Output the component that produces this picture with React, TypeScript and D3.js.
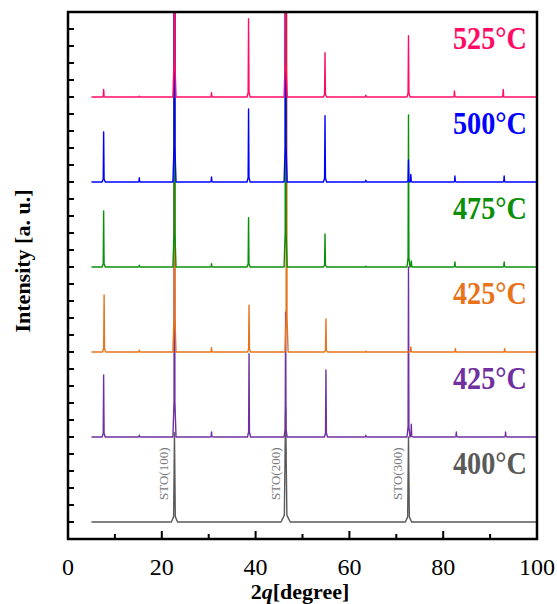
import React from 'react'
import * as d3 from 'd3'

type Peak = [number, number]

// peak list per trace: [2theta, height above own baseline]
const peaks525: Peak[] = [[7.6, 9], [15.2, 1], [22.7, 700], [30.6, 5], [38.5, 92], [46.4, 700], [54.8, 52], [63.5, 2], [72.6, 72], [82.4, 7], [92.8, 9]]
const peaks500: Peak[] = [[7.6, 59], [15.2, 5], [22.7, 700], [30.6, 6], [38.5, 86], [46.4, 700], [54.8, 78], [63.5, 2], [72.6, 26], [73.1, 9], [82.5, 7], [93.0, 7]]
const peaks475: Peak[] = [[7.6, 66], [15.2, 2], [22.7, 700], [30.6, 4], [38.5, 58], [46.4, 700], [54.8, 39], [63.5, 1], [72.6, 179], [73.2, 7], [82.5, 6], [93.0, 6]]
const peaks425a: Peak[] = [[7.7, 67], [15.2, 2], [22.7, 700], [30.6, 5], [38.6, 55], [46.6, 700], [55.0, 39], [63.5, 1], [73.1, 6], [82.6, 4], [93.1, 4]]
const peaks425b: Peak[] = [[7.6, 73], [15.2, 2], [22.7, 700], [30.6, 6], [38.6, 98], [46.4, 147], [55.0, 79], [63.5, 2], [72.6, 200], [73.2, 15], [82.8, 6], [93.3, 6]]
const peaks400: Peak[] = [[22.7, 105], [46.4, 135], [72.6, 100]]

const labels = ['525°C', '500°C', '475°C', '425°C', '425°C', '400°C']
const colors = ['#ff0a64', '#0000ff', '#0a8f0a', '#e8731a', '#7030a0', '#5a5a5a']
const offsets = [520, 420, 320, 220, 120, 20]
const allPeaks = [peaks525, peaks500, peaks475, peaks425a, peaks425b, peaks400]

const stoLabels = ['STO(100)', 'STO(200)', 'STO(300)']
const stoPos = [22.7, 46.4, 72.6]

const xTicks = [0, 20, 40, 60, 80, 100]

const W = 557
const H = 604
const margin = { left: 68, right: 20, top: 12, bottom: 65 }

function tracePoints(peaks: Peak[], gray: boolean): [number, number][] {
  const pts: [number, number][] = [[5, 0]]
  peaks.forEach(([p, h]) => {
    const w = gray ? (p === 46.4 ? 0.45 : 0.3) : 0.15
    pts.push([p - w * 2.2, 0])
    pts.push([p - w * 0.6, h * 0.06])
    pts.push([p, h])
    pts.push([p + w * 0.6, h * 0.06])
    pts.push([p + w * 2.2, 0])
  })
  pts.push([100, 0])
  return pts
}

export default function App() {
  const x = d3.scaleLinear().domain([0, 100]).range([margin.left, W - margin.right])
  const y = d3.scaleLinear().domain([0, 620]).range([H - margin.bottom, margin.top])
  const x0 = x(0), x1 = x(100), yTop = y(620), yBot = y(0)

  const leftTicks = d3.range(20, 620, 20)
  const bottomTicks = d3.range(10, 100, 10)

  // lower traces first so upper ones sit on top
  const order = [5, 4, 3, 2, 1, 0]

  return (
    <svg width={W} height={H} style={{ position: 'absolute', left: 0, top: 0, background: '#fff' }}
      fontFamily="'Liberation Serif', 'Times New Roman', serif">
      <defs>
        <clipPath id="plot">
          <rect x={x0} y={yTop} width={x1 - x0} height={yBot - yTop} />
        </clipPath>
      </defs>

      <g clipPath="url(#plot)">
        {order.map(i => {
          const line = d3.line<[number, number]>()
            .x(d => x(d[0]))
            .y(d => y(d[1] + offsets[i]))
          return (
            <path key={i} d={line(tracePoints(allPeaks[i], i === 5)) || ''}
              fill="none" stroke={colors[i]} strokeWidth={1.4} strokeLinejoin="round" />
          )
        })}
      </g>

      {stoLabels.map((t, i) => (
        <text key={t} transform={`translate(${x(stoPos[i]) - 6},${y(offsets[5]) - 22}) rotate(-90)`}
          fontSize={13} fill="#7a7a7a">{t}</text>
      ))}

      {labels.map((t, i) => (
        <text key={i} x={527} y={y(offsets[i]) - 48} textAnchor="end" fontSize={31}
          fontWeight="bold" fill={colors[i]} textLength={74} lengthAdjust="spacingAndGlyphs">{t}</text>
      ))}

      {/* frame */}
      <rect x={x0} y={yTop} width={x1 - x0} height={yBot - yTop} fill="none" stroke="#000" strokeWidth={2.5} />
      {leftTicks.map(v => (
        <line key={v} x1={x0} x2={x0 + 6} y1={y(v)} y2={y(v)} stroke="#000" strokeWidth={2} />
      ))}
      {bottomTicks.map(v => (
        <line key={v} x1={x(v)} x2={x(v)} y1={yBot} y2={yBot - (v % 20 === 0 ? 8 : 5)} stroke="#000" strokeWidth={2} />
      ))}
      {xTicks.map(v => (
        <text key={v} x={x(v)} y={575} textAnchor="middle" fontSize={24}>{v}</text>
      ))}

      <text x={300} y={599} textAnchor="middle" fontSize={22} fontWeight="bold">
        2<tspan fontStyle="italic">q</tspan>[degree]
      </text>
      <text transform={`translate(30,261) rotate(-90)`} textAnchor="middle" fontSize={22} fontWeight="bold">
        Intensity [a. u.]
      </text>
    </svg>
  )
}
